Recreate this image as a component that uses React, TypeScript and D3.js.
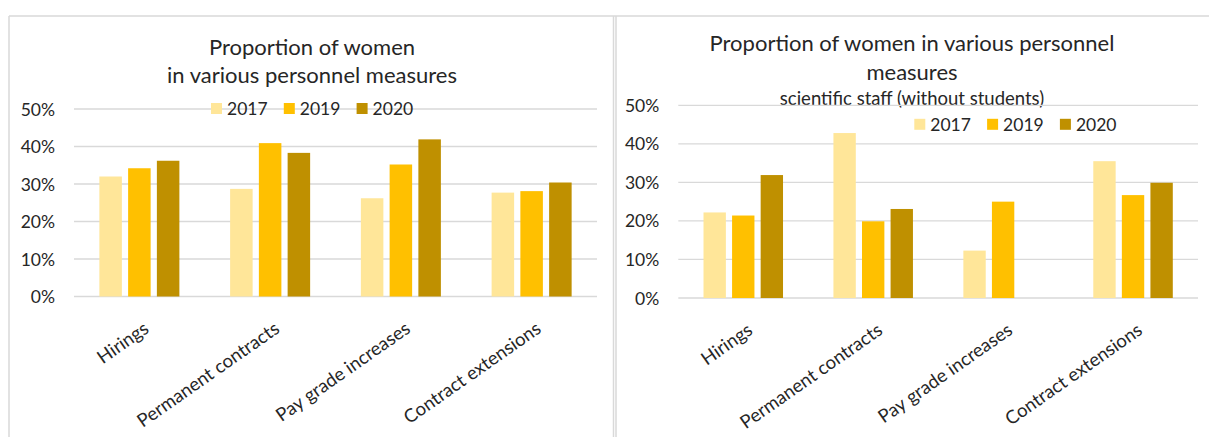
import React from "react";
import * as d3 from "d3";

const categories = ["Hirings", "Permanent contracts", "Pay grade increases", "Contract extensions"];
const years = ["2017", "2019", "2020"];
const colors = ["#FFE699", "#FFC000", "#BF9000"];
const yTicks = [0, 0.1, 0.2, 0.3, 0.4, 0.5];

// Left chart: all staff
const left2017 = [0.32, 0.287, 0.262, 0.277];
const left2019 = [0.342, 0.409, 0.352, 0.281];
const left2020 = [0.362, 0.383, 0.419, 0.304];

// Right chart: scientific staff (without students)
const right2017 = [0.222, 0.428, 0.123, 0.355];
const right2019 = [0.214, 0.199, 0.25, 0.267];
const right2020: (number | null)[] = [0.319, 0.231, null, 0.299];

const FONT = "Lato, 'Open Sans', sans-serif";
const TEXT = "#262626";

type ChartProps = {
  series: (number | null)[][];
  titleLines: string[];
  subtitle?: string;
  titleX: number;
  titleYs: number[];
  subtitleY?: number;
  legendX: number;
  legendY: number;
  x0: number;
  x1: number;
  yZero: number;
  yTop: number;
};

function Chart(p: ChartProps) {
  const y = d3.scaleLinear().domain([0, 0.5]).range([p.yZero, p.yTop]);
  const xOuter = d3
    .scaleBand<string>()
    .domain(categories)
    .range([p.x0, p.x1])
    .paddingInner(0.388)
    .paddingOuter(0.194);
  const xInner = d3
    .scaleBand<string>()
    .domain(years)
    .range([0, xOuter.bandwidth()])
    .paddingInner(0.217)
    .paddingOuter(0);
  const fmt = d3.format(".0%");
  return (
    <g>
      {p.titleLines.map((t, i) => (
        <text
          key={"t" + i}
          x={p.titleX}
          y={p.titleYs[i]}
          textAnchor="middle"
          dominantBaseline="central"
          fontSize={22}
          fill={TEXT}
        >
          {t}
        </text>
      ))}
      {p.subtitle && (
        <text
          x={p.titleX}
          y={p.subtitleY}
          textAnchor="middle"
          dominantBaseline="central"
          fontSize={18.5}
          fill={TEXT}
        >
          {p.subtitle}
        </text>
      )}
      {yTicks.map((t) => (
        <g key={"g" + t}>
          <line x1={p.x0} x2={p.x1} y1={y(t)} y2={y(t)} stroke="#D9D9D9" strokeWidth={1.3} />
          <text
            x={p.x0 - 19}
            y={y(t)}
            textAnchor="end"
            dominantBaseline="central"
            fontSize={17.5}
            fill={TEXT}
          >
            {fmt(t)}
          </text>
        </g>
      ))}
      {categories.map((c, ci) => (
        <g key={c}>
          {years.map((yr, si) => {
            const v = p.series[si][ci];
            if (v == null) return null;
            const bx = (xOuter(c) ?? 0) + (xInner(yr) ?? 0);
            return (
              <rect
                key={yr}
                x={bx}
                y={y(v)}
                width={xInner.bandwidth()}
                height={y(0) - y(v)}
                fill={colors[si]}
              />
            );
          })}
          <text
            transform={`translate(${(xOuter(c) ?? 0) + xOuter.bandwidth() / 2 + 3},${p.yZero + 24}) rotate(-35)`}
            textAnchor="end"
            dy="0.72em"
            fontSize={18.5}
            fill={TEXT}
          >
            {c}
          </text>
        </g>
      ))}
      {years.map((yr, i) => (
        <g key={"l" + yr} transform={`translate(${p.legendX + i * 72.8},${p.legendY})`}>
          <rect x={0} y={-5.5} width={11} height={11} fill={colors[i]} />
          <text x={16} y={0} dominantBaseline="central" fontSize={17.5} fill={TEXT}>
            {yr}
          </text>
        </g>
      ))}
    </g>
  );
}

export default function App() {
  return (
    <svg
      width={1209}
      height={437}
      style={{ position: "absolute", left: 0, top: 0, background: "#fff", fontFamily: FONT }}
    >
      <rect x={0} y={0} width={1209} height={437} fill="#fff" />
      <line x1={9} x2={1209} y1={16} y2={16} stroke="#D9D9D9" strokeWidth={1.5} />
      <line x1={9} x2={9} y1={16} y2={437} stroke="#D9D9D9" strokeWidth={1.5} />
      <line x1={613.5} x2={613.5} y1={16} y2={437} stroke="#D9D9D9" strokeWidth={1.5} />
      <line x1={616} x2={616} y1={16} y2={437} stroke="#D9D9D9" strokeWidth={1.5} />
      <Chart
        series={[left2017, left2019, left2020]}
        titleLines={["Proportion of women", "in various personnel  measures"]}
        titleX={312}
        titleYs={[46, 74]}
        legendX={211}
        legendY={108.5}
        x0={74}
        x1={597}
        yZero={296.5}
        yTop={109}
      />
      <Chart
        series={[right2017, right2019, right2020]}
        titleLines={["Proportion of women in various personnel", "measures"]}
        subtitle="scientific staff (without students)"
        titleX={912}
        titleYs={[42.5, 71]}
        subtitleY={97.5}
        legendX={914.3}
        legendY={124.3}
        x0={678.3}
        x1={1198}
        yZero={298}
        yTop={105.3}
      />
    </svg>
  );
}
